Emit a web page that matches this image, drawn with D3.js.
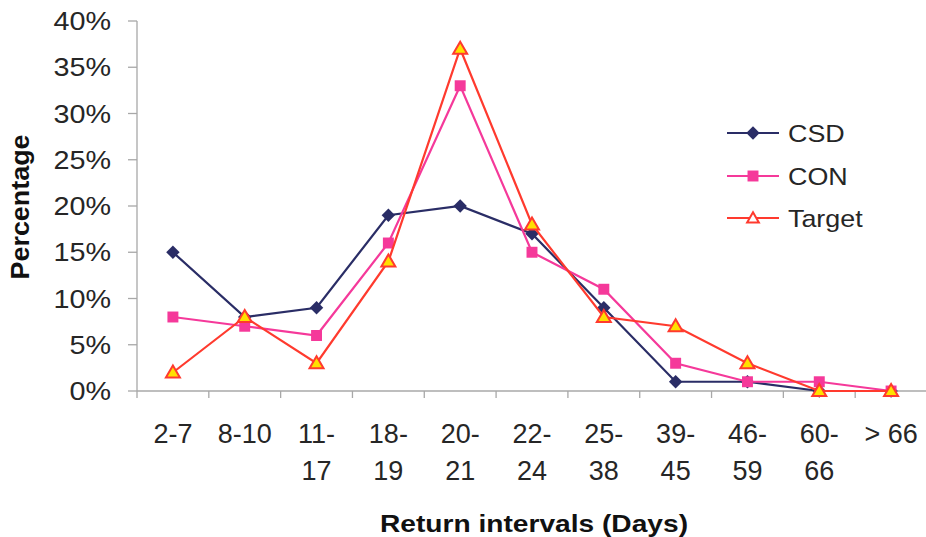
<!DOCTYPE html>
<html>
<head>
<meta charset="utf-8">
<script src="https://cdn.jsdelivr.net/npm/d3@7"></script>
<style>
  body { margin: 0; background: #fff; }
  svg { display: block; font-family: "Liberation Sans", Arial, sans-serif; }
</style>
</head>
<body>
<div id="chart"></div>
<script>
const categories = [["2-7"], ["8-10"], ["11-", "17"], ["18-", "19"], ["20-", "21"], ["22-", "24"],
  ["25-", "38"], ["39-", "45"], ["46-", "59"], ["60-", "66"], ["> 66"]]
const csd = [15, 8, 9, 19, 20, 17, 9, 1, 1, 0, 0]
const con = [8, 7, 6, 16, 33, 15, 11, 3, 1, 1, 0]
const target = [2, 8, 3, 14, 37, 18, 8, 7, 3, 0, 0]
const yTicks = [0, 5, 10, 15, 20, 25, 30, 35, 40]

const width = 926
const height = 537
const plot = { left: 137, right: 927, top: 21, bottom: 391 }

const svg = d3.select("#chart").append("svg")
  .attr("width", width)
  .attr("height", height)

const x = d3.scaleBand()
  .domain(d3.range(categories.length))
  .range([plot.left, plot.right])

const y = d3.scaleLinear()
  .domain([0, 40])
  .range([plot.bottom, plot.top])

const axisColor = "#a8a8a8"
const textColor = "#262626"

// y axis
svg.append("line")
  .attr("x1", plot.left).attr("x2", plot.left)
  .attr("y1", plot.top).attr("y2", plot.bottom)
  .attr("stroke", axisColor).attr("stroke-width", 1.3)

svg.append("g")
  .selectAll("line")
  .data(yTicks)
  .join("line")
  .attr("x1", plot.left - 9).attr("x2", plot.left)
  .attr("y1", d => y(d)).attr("y2", d => y(d))
  .attr("stroke", axisColor).attr("stroke-width", 1.3)

svg.append("g")
  .selectAll("text")
  .data(yTicks)
  .join("text")
  .attr("transform", d => `translate(111,${y(d)}) scale(1.15,1)`)
  .attr("dy", "0.36em")
  .attr("text-anchor", "end")
  .attr("font-size", 25)
  .attr("fill", textColor)
  .text(d => d + "%")

// x axis
svg.append("line")
  .attr("x1", plot.left).attr("x2", plot.right)
  .attr("y1", plot.bottom).attr("y2", plot.bottom)
  .attr("stroke", axisColor).attr("stroke-width", 1.3)

svg.append("g")
  .selectAll("line")
  .data(d3.range(categories.length + 1))
  .join("line")
  .attr("x1", d => plot.left + d * x.step()).attr("x2", d => plot.left + d * x.step())
  .attr("y1", plot.bottom).attr("y2", plot.bottom + 7)
  .attr("stroke", axisColor).attr("stroke-width", 1.3)

const xl = svg.append("g")
  .selectAll("text")
  .data(categories)
  .join("text")
  .attr("text-anchor", "middle")
  .attr("font-size", 27)
  .attr("fill", textColor)
  .attr("transform", (d, i) => `translate(${x(i) + x.bandwidth() / 2},0)`)

xl.selectAll("tspan")
  .data(d => d)
  .join("tspan")
  .attr("x", 0)
  .attr("y", (d, i) => 443 + i * 37)
  .text(d => d)

// axis titles
svg.append("text")
  .attr("x", 380)
  .attr("y", 532)
  .attr("font-size", 24)
  .attr("font-weight", "bold")
  .attr("fill", "#111")
  .attr("textLength", 308)
  .attr("lengthAdjust", "spacingAndGlyphs")
  .text("Return intervals (Days)")

svg.append("text")
  .attr("transform", "translate(29,207) rotate(-90)")
  .attr("text-anchor", "middle")
  .attr("font-size", 25)
  .attr("font-weight", "bold")
  .attr("fill", "#111")
  .attr("textLength", 145)
  .attr("lengthAdjust", "spacingAndGlyphs")
  .text("Percentage")

const series = [
  { name: "CSD", values: csd, color: "#2a2d66", marker: "diamond" },
  { name: "CON", values: con, color: "#f5399a", marker: "square" },
  { name: "Target", values: target, color: "#ff3a2e", marker: "triangle" }
]

const line = d3.line()
  .x((d, i) => x(i) + x.bandwidth() / 2)
  .y(d => y(d))

const drawMarker = (g, s, cx, cy, size) => {
  if (s.marker === "diamond") {
    g.append("path")
      .attr("d", d3.symbol(d3.symbolSquare, 90 * size)())
      .attr("transform", `translate(${cx},${cy}) rotate(45)`)
      .attr("fill", s.color)
  } else if (s.marker === "square") {
    g.append("path")
      .attr("d", d3.symbol(d3.symbolSquare, 120 * size)())
      .attr("transform", `translate(${cx},${cy})`)
      .attr("fill", s.color)
  } else {
    g.append("path")
      .attr("d", d3.symbol(d3.symbolTriangle, 85 * size)())
      .attr("transform", `translate(${cx},${cy + 1})`)
      .attr("fill", size < 1 ? "#fff" : "#ffe000")
      .attr("stroke", s.color)
      .attr("stroke-width", 2)
  }
}

// draw series in order CSD, CON, Target
series.forEach(s => {
  svg.append("path")
    .datum(s.values)
    .attr("d", line)
    .attr("fill", "none")
    .attr("stroke", s.color)
    .attr("stroke-width", 2.2)

  const g = svg.append("g")
  s.values.forEach((v, i) => {
    drawMarker(g, s, x(i) + x.bandwidth() / 2, y(v), 1)
  })
})

// legend
const legendRows = [133, 176, 218]
series.forEach((s, i) => {
  const g = svg.append("g")
  g.append("line")
    .attr("x1", 727).attr("x2", 779)
    .attr("y1", legendRows[i]).attr("y2", legendRows[i])
    .attr("stroke", s.color).attr("stroke-width", 2)
  drawMarker(g, s, 753, legendRows[i], s.marker === "triangle" ? 0.7 : 1)
  g.append("text")
    .attr("transform", `translate(788,${legendRows[i]}) scale(1.12,1)`)
    .attr("dy", "0.36em")
    .attr("font-size", 24)
    .attr("fill", textColor)
    .text(s.name)
})
</script>
</body>
</html>
